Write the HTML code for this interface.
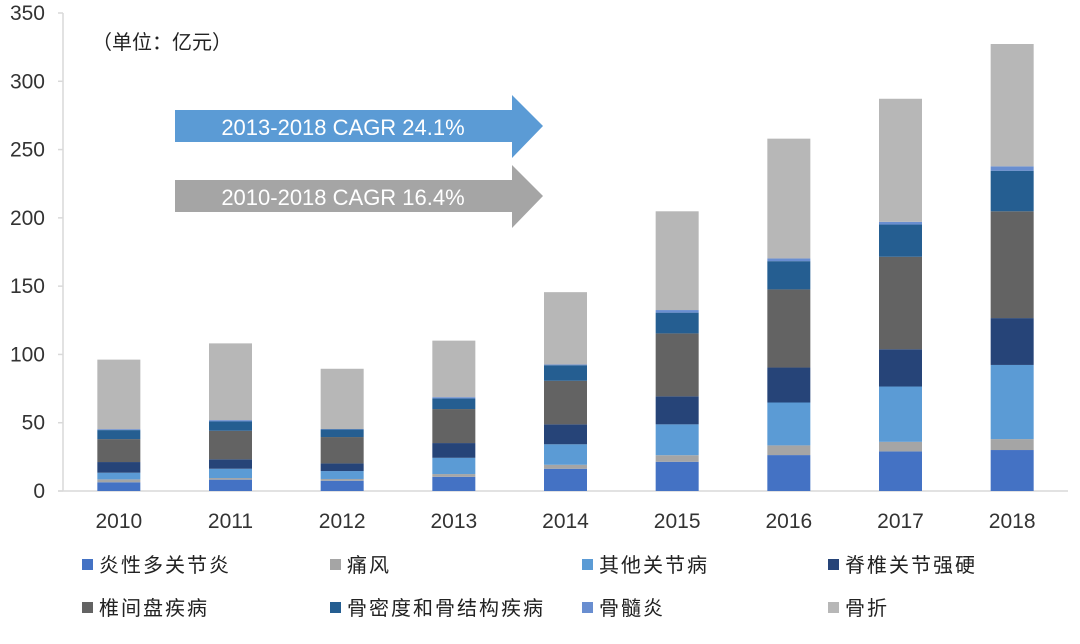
<!DOCTYPE html>
<html><head><meta charset="utf-8"><style>
body{margin:0;background:#fff;}
svg text{font-family:"Liberation Sans","Noto Sans CJK SC",sans-serif;}
</style></head><body>
<svg id="chart" width="1080" height="639" xmlns="http://www.w3.org/2000/svg">
<g id="axes"></g>
<g id="bars"></g>
<text x="92" y="49" font-size="20" fill="#222">（单位：亿元）</text>
<g>
<polygon points="175,110 512,110 512,95 543,126 512,158 512,142 175,142" fill="#5b9bd5"/>
<text x="343" y="135" font-size="22" fill="#fff" text-anchor="middle">2013-2018  CAGR  24.1%</text>
</g>
<g>
<polygon points="175,180 512,180 512,165 543,196 512,228 512,212 175,212" fill="#a5a5a5"/>
<text x="343" y="205" font-size="22" fill="#fff" text-anchor="middle">2010-2018  CAGR  16.4%</text>
</g>
<g id="legend"></g>
</svg>
<script>
const categories=["2010","2011","2012","2013","2014","2015","2016","2017","2018"];
const seriesNames=["炎性多关节炎","痛风","其他关节病","脊椎关节强硬","椎间盘疾病","骨密度和骨结构疾病","骨髓炎","骨折"];
const s1=[6.4,8.3,7.5,10.4,16.3,21.4,26.3,29,30];
const s2=[2.1,1.2,1.3,2,2.9,4.8,7.1,7,8];
const s3=[4.9,6.8,5.8,11.9,15,22.6,31.4,40.5,54.3];
const s4=[7.8,6.9,5.6,10.8,14.6,20.5,25.6,27.3,34.3];
const s5=[16.8,20.9,19.3,24.9,31.9,46.1,57.2,67.7,78.2];
const s6=[6.6,6.8,5.6,7.7,11.4,15.2,20.7,23.6,29.7];
const s7=[0.7,1.0,0.3,1,0.5,1.9,2,2,3.2];
const s8=[50.9,56.2,44.1,41.4,53,72.3,87.7,90.1,89.6];
const yTicks=[0,50,100,150,200,250,300,350];
const series=[s1,s2,s3,s4,s5,s6,s7,s8];
const colors=["#4472c4","#a5a5a5","#5b9bd5","#264478","#636363","#255e91","#698ed0","#b7b7b7"];
const NS="http://www.w3.org/2000/svg";
const X0=63,X1=1068,Y0=491,Ymax=350,PH=491-13;
const bw=(X1-X0)/categories.length;
function y(v){return Y0-v/Ymax*PH;}
function xc(i){return X0+bw*(i+0.5);}
function mk(t,a,p){const e=document.createElementNS(NS,t);for(const k in a)e.setAttribute(k,a[k]);p.appendChild(e);return e;}
const axes=document.getElementById('axes');
const al=mk('line',{x1:X0,y1:13,x2:X0,y2:Y0,stroke:'#d9d9d9','stroke-width':1.5},axes);


const ab=mk('line',{x1:X0-5,y1:Y0,x2:X1,y2:Y0,stroke:'#d9d9d9','stroke-width':1.5},axes);


yTicks.forEach(v=>{
 mk('line',{x1:X0-5,y1:y(v),x2:X0,y2:y(v),stroke:'#d9d9d9','stroke-width':1.5},axes);
 const t=mk('text',{x:45,y:y(v)+7,'font-size':21,'text-anchor':'end',fill:'#333'},axes);
 t.textContent=v;
 
 
});
const bars=document.getElementById('bars');
categories.forEach((c,i)=>{
 let cum=0;
 series.forEach((s,k)=>{
  const r=mk('rect',{x:xc(i)-21.5,y:y(cum+s[i]),width:43,height:y(cum)-y(cum+s[i]),fill:colors[k]},bars);
  
  
  cum+=s[i];
 });
 const t=mk('text',{x:xc(i),y:528,'font-size':21,'text-anchor':'middle',fill:'#333'},bars);
 t.textContent=c;
 
 
});
const legend=document.getElementById('legend');
const lx=[82,330,582,828],ly=[565,608];
seriesNames.forEach((n,k)=>{
 const g=mk('g',{},legend);
 
 
 const X=lx[k%4],Y=ly[Math.floor(k/4)];
 mk('rect',{x:X,y:Y-6,width:11,height:11,fill:colors[k]},g);
 const t=mk('text',{x:X+17,y:Y+7,'font-size':20,fill:'#222','letter-spacing':'2'},g);
 t.textContent=n;
});
</script>
</body></html>
